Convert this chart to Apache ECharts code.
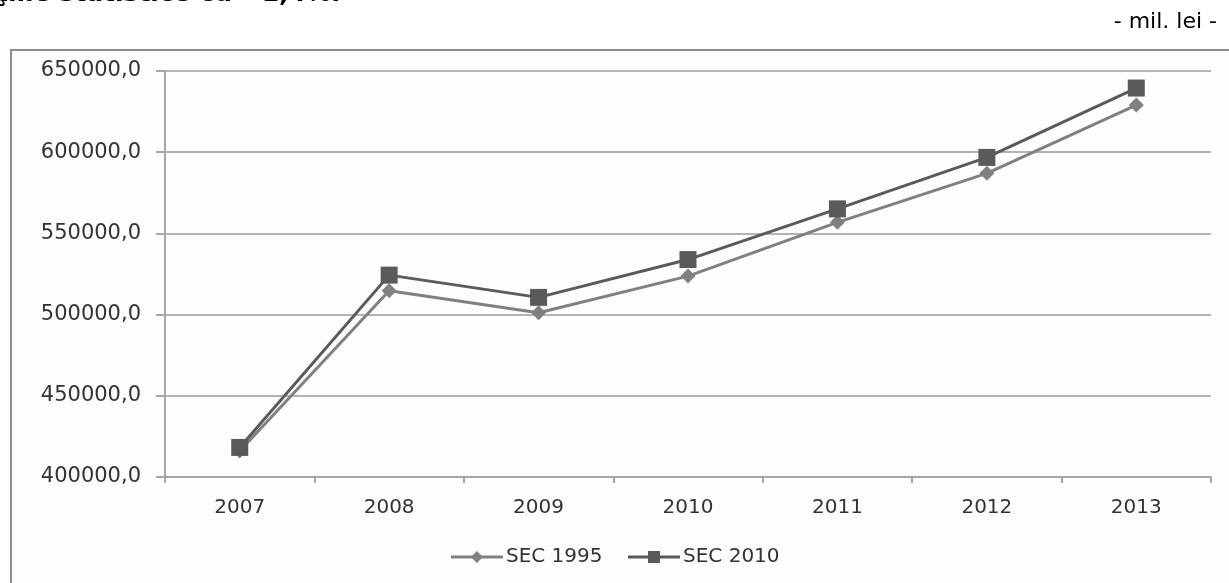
<!DOCTYPE html>
<html>
<head>
<meta charset="utf-8">
<script src="https://cdn.jsdelivr.net/npm/echarts@6/dist/echarts.min.js"></script>
<style>
html,body{margin:0;padding:0;background:#ffffff;}
#chart{width:1229px;height:583px;}
</style>
</head>
<body>
<div id="chart"></div>
<script>
const years = ['2007','2008','2009','2010','2011','2012','2013'];
const sec1995 = [416000, 514700, 501100, 523700, 556800, 587000, 629000];
const sec2010 = [418200, 524300, 510600, 533900, 565100, 596800, 639500];
const yTicks = { min: 400000, max: 650000, step: 50000 };
const unitLabel = '- mil. lei -';
const topText = 'ţiile statistice cu ~1,4%.';

const chart = echarts.init(document.getElementById('chart'), null, {renderer: 'canvas'});
const font = 'DejaVu Sans';
chart.setOption({
  backgroundColor: '#ffffff',
  animation: false,
  graphic: [
    { type: 'rect', left: 10, top: 49, shape: { width: 1240, height: 560 },
      style: { fill: '#fdfdfd', stroke: '#8c8c8c', lineWidth: 2 }, z: -10 },
    { type: 'text', left: -4, top: -18,
      style: { text: topText, font: 'bold 25px "DejaVu Sans"', fill: '#000' } },
    { type: 'text', right: 12, top: 11,
      style: { text: unitLabel, font: '22px "DejaVu Sans"', fill: '#000' } }
  ],
  grid: { left: 165, right: 18, top: 71, bottom: 106, containLabel: false },
  legend: {
    bottom: 11, left: 'center',
    itemWidth: 52, itemHeight: 15, itemGap: 24,
    textStyle: { fontFamily: font, fontSize: 20, color: '#333', padding: [0,0,0,-2] },
    data: [
      { name: 'SEC 1995', lineStyle: { width: 3 } },
      { name: 'SEC 2010', lineStyle: { width: 3 } }
    ]
  },
  xAxis: {
    type: 'category', data: years, boundaryGap: true,
    axisLine: { lineStyle: { color: '#a6a6a6', width: 2 } },
    axisTick: { show: true, length: 6, alignWithLabel: false, lineStyle: { color: '#a6a6a6', width: 2 } },
    axisLabel: { fontFamily: font, fontSize: 20, color: '#333', margin: 21 }
  },
  yAxis: {
    type: 'value', min: yTicks.min, max: yTicks.max, interval: yTicks.step,
    axisLine: { show: true, lineStyle: { color: '#a6a6a6', width: 2 } },
    axisTick: { show: true, length: 9, lineStyle: { color: '#a6a6a6', width: 2 } },
    splitLine: { lineStyle: { color: '#b3b3b3', width: 2 } },
    axisLabel: { fontFamily: font, fontSize: 21, color: '#333', margin: 24,
      formatter: v => v.toFixed(1).replace('.', ',') }
  },
  series: [
    { name: 'SEC 1995', type: 'line', data: sec1995,
      symbol: 'diamond', symbolSize: 15, color: '#808080',
      lineStyle: { width: 3, color: '#808080' }, itemStyle: { color: '#808080' } },
    { name: 'SEC 2010', type: 'line', data: sec2010,
      symbol: 'rect', symbolSize: 17, color: '#5a5a5a',
      lineStyle: { width: 3, color: '#5a5a5a' }, itemStyle: { color: '#5a5a5a' } }
  ]
});
</script>
</body>
</html>
